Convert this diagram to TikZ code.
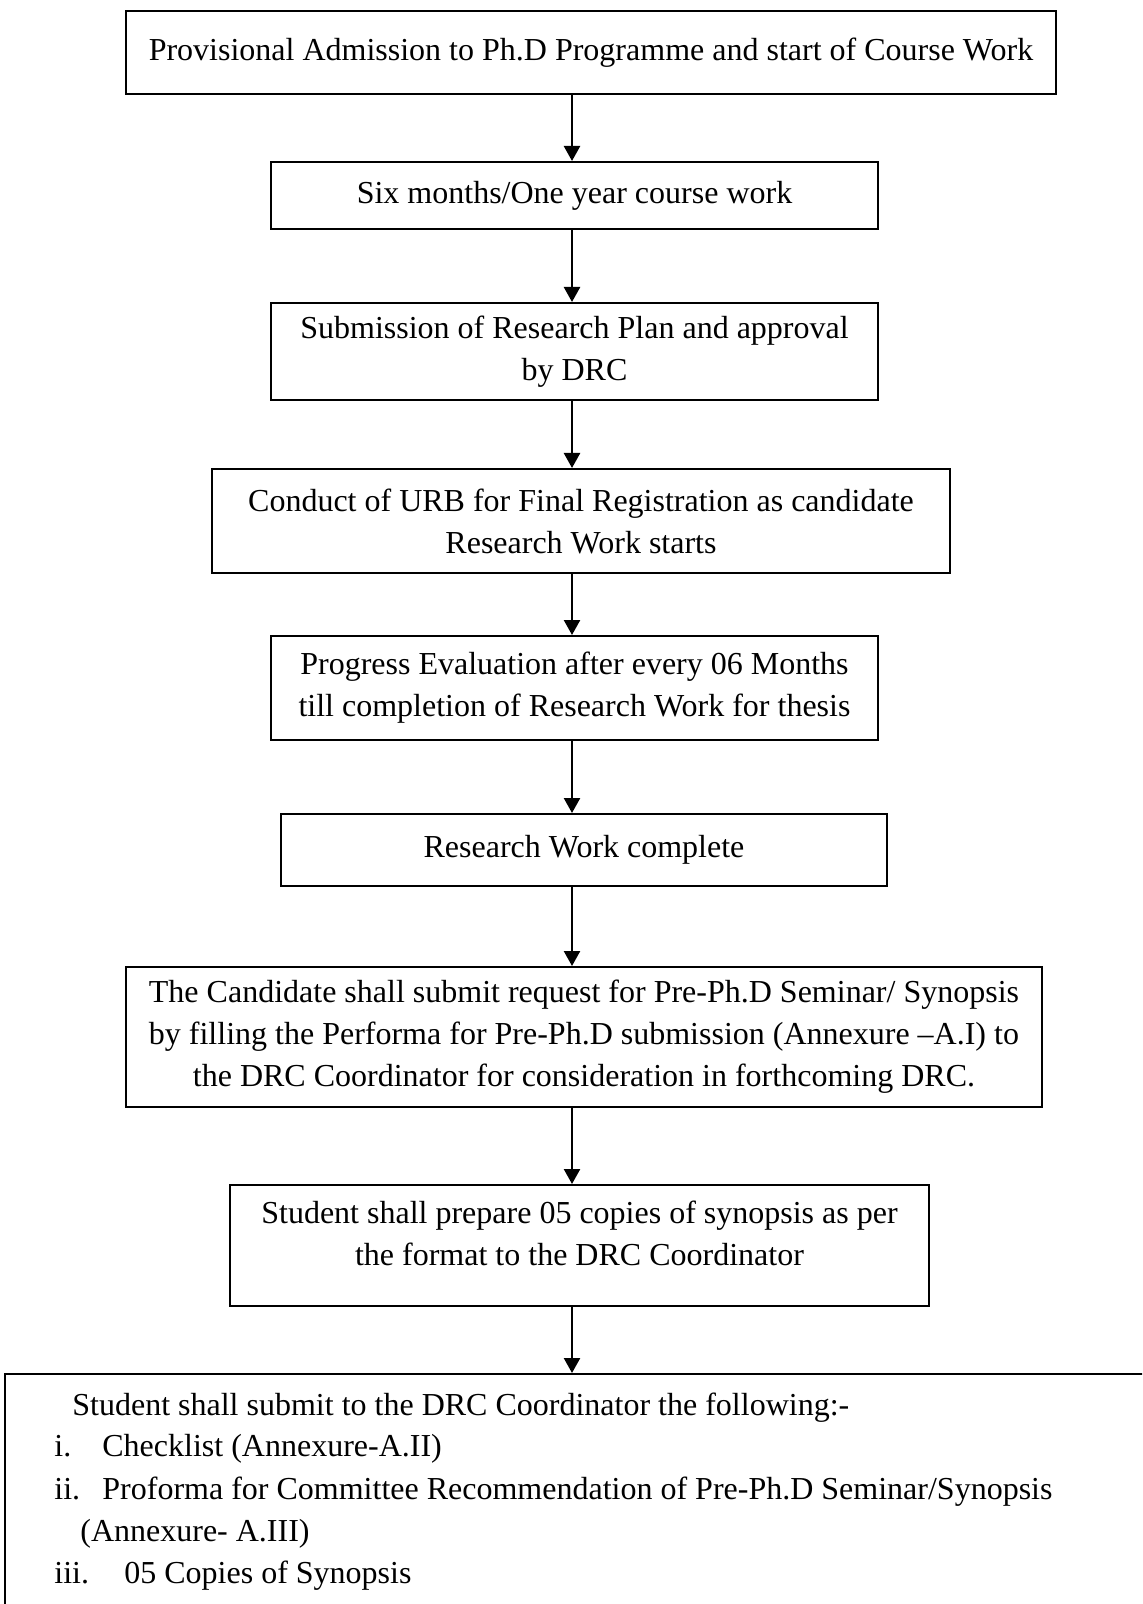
\documentclass[tikz,border=0pt]{standalone}
\usepackage{fontspec}
\setmainfont{Liberation Serif}
\usetikzlibrary{arrows.meta}

\begin{document}
\begin{tikzpicture}[x=0.5pt,y=-0.5pt,
    box/.style={draw, line width=1pt, inner sep=0pt, align=center,
        font=\fontsize{16}{21}\selectfont},
    txt/.style={inner sep=0pt, anchor=base west, font=\fontsize{16}{21}\selectfont},
    flow/.style={-{Triangle[length=7.5pt,width=8pt]}, line width=1.2pt}]
    \useasboundingbox (0,0) rectangle (1142,1604);
    \clip (0,0) rectangle (1142,1604);

    \node[box, minimum width=465pt, minimum height=41.5pt] (b1) at (591,52.5)
        {Provisional Admission to Ph.D Programme and start of Course Work};
    \node[box, minimum width=303.5pt, minimum height=33.5pt] (b2) at (574.5,195.5)
        {Six months/One year course work};
    \node[box, minimum width=303.5pt, minimum height=48.5pt] (b3) at (574.5,351.5)
        {Submission of Research Plan and approval\\ by DRC};
    \node[box, minimum width=369pt, minimum height=52pt] (b4) at (581,521)
        {Conduct of URB for Final Registration as candidate\\ Research Work starts};
    \node[box, minimum width=303.5pt, minimum height=52pt] (b5) at (574.5,688)
        {Progress Evaluation after every 06 Months\\ till completion of Research Work for thesis};
    \node[box, minimum width=303pt, minimum height=36pt] (b6) at (584,850)
        {Research Work complete};
    \node[box, minimum width=458pt, minimum height=70pt] (b7) at (584,1037)
        {The Candidate shall submit request for Pre-Ph.D Seminar/ Synopsis\\
         by filling the Performa for Pre-Ph.D submission (Annexure --A.I) to\\
         the DRC Coordinator for consideration in forthcoming DRC.};
    \node[box, minimum width=349.5pt, minimum height=60.5pt] (b8) at (579.5,1245.5) {};
    \node[align=center, inner sep=0pt, font=\fontsize{16}{21}\selectfont] (t8) at (579.5,1233.5)
        {Student shall prepare 05 copies of synopsis as per\\ the format to the DRC Coordinator};
    \node[box, anchor=north west, minimum width=620pt, minimum height=150pt] (b9) at (4,1373) {};

    % list in the last box
    \node[txt] (l1) at (72,1415) {Student shall submit to the DRC Coordinator the following:-};
    \node[txt] (n1) at (54,1456) {i.};
    \node[txt] (l2) at (102,1456) {Checklist (Annexure-A.II)};
    \node[txt] (n2) at (54,1499) {ii.};
    \node[txt] (l3) at (102,1499) {Proforma for Committee Recommendation of Pre-Ph.D Seminar/Synopsis};
    \node[txt] (l4) at (80,1541) {(Annexure- A.III)};
    \node[txt] (n3) at (54,1583) {iii.};
    \node[txt] (l5) at (124,1583) {05 Copies of Synopsis};

    \coordinate (ax) at (572,0);
    \foreach \a/\b in {b1/b2,b2/b3,b3/b4,b4/b5,b5/b6,b6/b7,b7/b8,b8/b9} {
        \draw[flow] (ax |- \a.south) -- (ax |- \b.north);
    }
\end{tikzpicture}
\end{document}
